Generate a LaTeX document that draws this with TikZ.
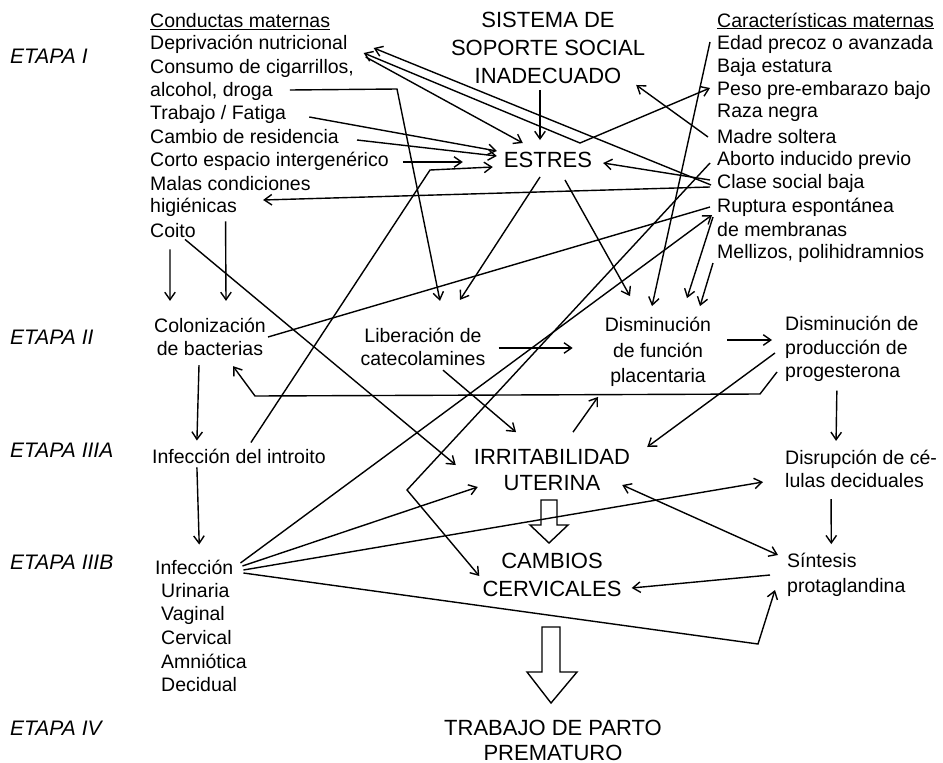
\documentclass[tikz,border=0pt]{standalone}
\usepackage{fontspec}
\setmainfont{Liberation Sans}
\usetikzlibrary{arrows.meta, calc}

\begin{document}
\begin{tikzpicture}[x=1pt, y=-1pt,
	etapa/.style={font=\fontsize{21}{25}\selectfont\itshape, anchor=west, inner sep=1pt},
	item/.style={font=\fontsize{19.5}{23.3}\selectfont, anchor=west, inner sep=1pt},
	bloque/.style={font=\fontsize{19.5}{23.3}\selectfont, align=center, inner sep=1pt},
	mayor/.style={font=\fontsize{22}{28}\selectfont, align=center, inner sep=1pt},
	flecha/.style={-{Straight Barb[length=7.5pt,width=10.5pt]}, line width=1.4pt},
	dflecha/.style={{Straight Barb[length=7.5pt,width=10.5pt]}-{Straight Barb[length=7.5pt,width=10.5pt]}, line width=1.4pt},
	linea/.style={line width=1.4pt}]
					\fill[white] (0,0) rectangle (943,763);
					\useasboundingbox (0,0) rectangle (943,763);

					\draw
						(9,56) node[etapa] (et1) {ETAPA I}
						(9,337) node[etapa] (et2) {ETAPA II}
						(9,450) node[etapa] (et3a) {ETAPA IIIA}
						(9,562) node[etapa] (et3b) {ETAPA IIIB}
						(9,728) node[etapa] (et4) {ETAPA IV};

					\draw
						(149,22) node[item] (cond) {\underline{Conductas maternas}}
						(149,44) node[item] (dep) {Deprivación nutricional}
						(149,68) node[item] (cig) {Consumo de cigarrillos,}
						(149,91) node[item] (alc) {alcohol, droga}
						(149,114) node[item] (trab) {Trabajo / Fatiga}
						(149,137) node[item] (camb) {Cambio de residencia}
						(149,161) node[item] (corto) {Corto espacio intergenérico}
						(149,184) node[item] (malas) {Malas condiciones}
						(149,207) node[item] (hig) {higiénicas}
						(149,231) node[item] (coito) {Coito};

					\draw
						(716,21) node[item] (carac) {\underline{Características maternas}}
						(716,44) node[item] (edad) {Edad precoz o avanzada}
						(716,67) node[item] (baja) {Baja estatura}
						(716,90) node[item] (peso) {Peso pre-embarazo bajo}
						(716,113) node[item] (raza) {Raza negra}
						(716,137) node[item] (madre) {Madre soltera}
						(716,160) node[item] (aborto) {Aborto inducido previo}
						(716,183) node[item] (clase) {Clase social baja}
						(716,207) node[item] (rupt) {Ruptura espontánea}
						(716,230) node[item] (memb) {de membranas}
						(716,253) node[item] (mell) {Mellizos, polihidramnios};

					\draw
						(548,48) node[mayor] (sist) {SISTEMA DE\\SOPORTE SOCIAL\\INADECUADO}
						(548,160) node[mayor, inner sep=4pt] (estres) {ESTRES}
						(552,470) node[mayor, font=\fontsize{22}{26}\selectfont] (irrit) {IRRITABILIDAD\\UTERINA}
						(552,575) node[mayor] (cerv) {CAMBIOS\\CERVICALES}
						(553,740) node[mayor, font=\fontsize{22}{25}\selectfont] (parto) {TRABAJO DE PARTO\\PREMATURO};

					\draw
						(210,337) node[bloque] (colon) {Colonización\\de bacterias}
						(423,347) node[bloque] (lib) {Liberación de\\catecolamines}
						(658,352) node[bloque, font=\fontsize{19.5}{25.5}\selectfont] (dfun) {Disminución\\de función\\placentaria}
						(784,349) node[bloque, anchor=west, align=left] (prog) {Disminución de\\producción de\\progesterona}
						(151,456) node[item] (introito) {Infección del introito}
						(784,469) node[bloque, anchor=west, align=left] (disr) {Disrupción de cé-\\lulas deciduales}
						(786,575) node[bloque, anchor=west, align=left, font=\fontsize{19.5}{25}\selectfont] (sint) {Síntesis\\protaglandina}
						(154,567) node[item] (infec) {Infección}
						(160,637.5) node[bloque, anchor=west, align=left, font=\fontsize{19.5}{23.7}\selectfont] (tipos) {Urinaria\\Vaginal\\Cervical\\Amniótica\\Decidual};

					\coordinate (kpeso) at (580,143);
					\coordinate (kintro) at (430,170);
					\coordinate (kalc) at (397,89);
					\coordinate (kprog) at (760,394);
					\coordinate (kcol) at (255,396);
					\coordinate (ksint) at (758,644);
					\coordinate (kabo) at (407,490);

					% etapa I
					\draw[flecha] ([xshift=-5pt,yshift=-2pt]clase.west) -- ([xshift=25pt,yshift=-4pt]dep.east);
					\draw[dflecha] ([xshift=-6pt,yshift=2pt]peso.west) -- (kpeso) -- ([xshift=15pt,yshift=-9pt]dep.east);
					\draw[flecha] ([xshift=17pt,yshift=-13pt]dep.east) -- ([xshift=23pt,yshift=5pt]estres.north west);
					\draw[flecha] ([xshift=-8pt,yshift=-5pt]sist.south) -- ([xshift=-8pt,yshift=8pt]estres.north);
					\draw[flecha] ([xshift=-8pt]madre.west) -- ([xshift=-10pt]sist.south east);
					\draw[flecha] ([xshift=-6pt,yshift=3pt]clase.west) -- ([xshift=7pt,yshift=-3pt]estres.east);
					\draw[flecha] ([xshift=-6pt,yshift=-4pt]clase.west) -- ([xshift=25pt,yshift=7pt]hig.east);
					\draw[flecha] ([xshift=22pt,yshift=-3pt]trab.east) -- ([xshift=-3pt,yshift=9pt]estres.west);
					\draw[flecha] ([xshift=17pt,yshift=-3pt]camb.east) -- ([xshift=-3pt,yshift=4pt]estres.west);
					\draw[flecha] ([xshift=13pt,yshift=-1pt]corto.east) -- ([xshift=-37pt,yshift=-2pt]estres.west);
					\draw[flecha] ([xshift=12pt,yshift=5pt]introito.north) -- (kintro) -- ([xshift=-7pt,yshift=-7pt]estres.west);
					\draw[flecha] ([xshift=16pt,yshift=1pt]alc.east) -- (kalc) -- ([xshift=17pt,yshift=26pt]lib.north);
					\draw[flecha] ([xshift=-8pt,yshift=-5pt]estres.south) -- ([xshift=37pt,yshift=27pt]lib.north);
					\draw[flecha] ([xshift=17pt,yshift=-8pt]estres.south) -- ([xshift=-28pt,yshift=20pt]dfun.north);
					\draw[flecha] ([xshift=-6pt,yshift=2pt]edad.west) -- ([xshift=-6pt,yshift=10pt]dfun.north);
					\draw[flecha] ([xshift=-3pt,yshift=-10pt]rupt.west) -- ([xshift=29pt,yshift=18pt]dfun.north);
					\draw[flecha] ([xshift=-3pt,yshift=-10pt]mell.west) -- ([xshift=42pt,yshift=10pt]dfun.north);
					\draw[linea] ([xshift=1pt]colon.east) -- ([xshift=-6pt]rupt.west);
					\draw[flecha] ([xshift=32pt,yshift=-4pt]hig.south) -- ([xshift=16pt,yshift=16pt]colon.north);
					\draw[flecha] ([xshift=-3pt,yshift=-10pt]coito.south) -- ([xshift=-40pt,yshift=16pt]colon.north);
					\draw[flecha] ([xshift=12pt]coito.south) -- ([xshift=-17pt,yshift=5pt]irrit.west);

					% etapa II y III
					\draw[flecha] ([xshift=12pt,yshift=-1pt]lib.east) -- ([xshift=-31pt,yshift=4pt]dfun.west);
					\draw[flecha] ([xshift=15pt,yshift=12pt]dfun.east) -- ([xshift=-12pt,yshift=9pt]prog.west);
					\draw[flecha] ([xshift=-7pt,yshift=-23pt]prog.west) -- (kprog) -- (kcol) -- ([xshift=23pt,yshift=-9pt]colon.south);
					\draw[flecha] ([xshift=20pt,yshift=-3pt]lib.south) -- ([xshift=-36pt,yshift=16pt]irrit.north);
					\draw[flecha] ([xshift=21pt,yshift=16pt]irrit.north) -- ([xshift=-60pt,yshift=-9pt]dfun.south);
					\draw[flecha] ([xshift=-9pt,yshift=-4pt]prog.west) -- ([xshift=16pt,yshift=23pt]irrit.east);
					\draw[flecha] ([xshift=-15pt,yshift=-8pt]prog.south) -- ([xshift=-25pt,yshift=8pt]disr.north);
					\draw[flecha] ([xshift=-11pt,yshift=-8pt]colon.south) -- ([xshift=-42pt,yshift=7pt]introito.north);
					\draw[flecha] ([xshift=-42pt,yshift=-3pt]introito.south) -- ([xshift=5pt,yshift=14pt]infec.north);
					\draw[flecha] ([xshift=6pt,yshift=4pt]infec.east) -- ([xshift=-4pt,yshift=-8pt]rupt.west);
					\draw[flecha] ([xshift=8pt,yshift=1pt]infec.east) -- ([xshift=5pt,yshift=-17pt]irrit.west);
					\draw[flecha] ([xshift=9pt,yshift=-3pt]infec.east) -- ([xshift=-21pt,yshift=-13pt]disr.west);
					\draw[flecha] ([xshift=9pt,yshift=-6pt]infec.east) -- (ksint) -- ([xshift=-11pt,yshift=-15pt]sint.west);
					\draw[flecha] ([xshift=-6pt,yshift=-3pt]aborto.west) -- (kabo) -- ([xshift=-2pt,yshift=-1pt]cerv.west);
					\draw[flecha] ([xshift=-30pt,yshift=-10pt]disr.south) -- ([xshift=-15pt,yshift=8pt]sint.north);
					\draw[dflecha] ([xshift=-9pt,yshift=-15pt]irrit.east) -- ([xshift=-8pt,yshift=20pt]sint.west);
					\draw[flecha] ([xshift=-16pt]sint.west) -- ([xshift=9pt,yshift=-13pt]cerv.east);

					% flechas huecas
					\draw[linea] (541,500) -- (557,500) -- (557,525) -- (568,525) -- (549,543) -- (530,525) -- (541,525) -- cycle;
					\draw[linea] (542,627) -- (560,627) -- (560,672) -- (577,672) -- (551,703) -- (527,672) -- (542,672) -- cycle;
				\end{tikzpicture}
\end{document}
